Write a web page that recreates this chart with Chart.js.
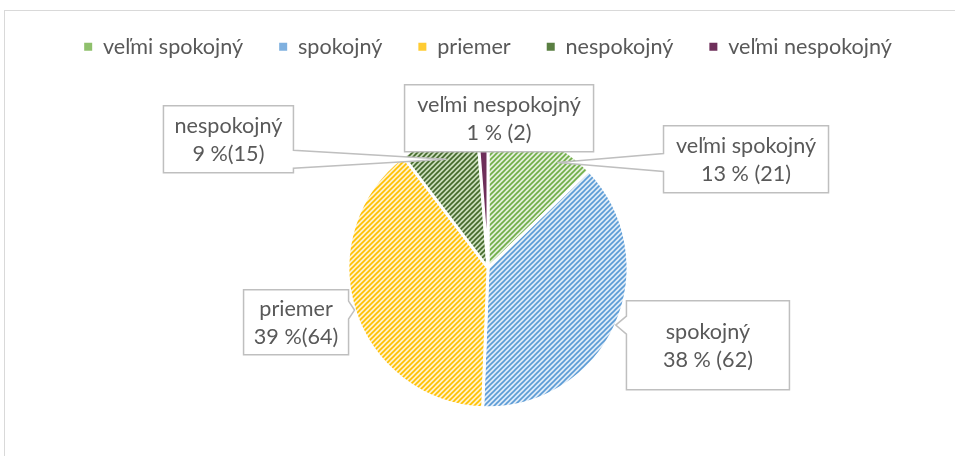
<!DOCTYPE html>
<html>
<head>
<meta charset="utf-8">
<script src="https://cdn.jsdelivr.net/npm/chart.js@4/dist/chart.umd.min.js"></script>
<style>
    body { margin: 0; background: #ffffff; overflow: hidden; }
    #frame {
        position: absolute; left: 4px; top: 10px; width: 980px; height: 480px;
        border: 1px solid #d9d9d9;
    }
    /* taller than the window so the pie centre lands where it should */
    #wrap { position: absolute; left: 0; top: 0; width: 955px; height: 468px; }
</style>
</head>
<body>
<div id="frame"></div>
<div id="wrap"><canvas id="pieChart"></canvas></div>
<script>
// ===== DATA =====
const categories = ['veľmi spokojný', 'spokojný', 'priemer', 'nespokojný', 'veľmi nespokojný'];
const counts = [21, 62, 64, 15, 2];
const valueLabels = ['13 % (21)', '38 % (62)', '39 %(64)', '9 %(15)', '1 % (2)'];

const textColor = '#595959';
const fontFamily = 'Lato, "Open Sans", sans-serif';
const fontSize = 21.6;

// Striped fill like Excel's "wide upward diagonal" pattern
function makeStripes(bg, fg) {
    const s = 5;
    const c = document.createElement('canvas');
    c.width = s; c.height = s;
    const g = c.getContext('2d');
    g.fillStyle = bg;
    g.fillRect(0, 0, s, s);
    g.strokeStyle = fg;
    g.lineWidth = 1.6;
    g.beginPath();
    g.moveTo(-1, s + 1); g.lineTo(s + 1, -1);
    g.moveTo(-1, 1); g.lineTo(1, -1);
    g.moveTo(s - 1, s + 1); g.lineTo(s + 1, s - 1);
    g.stroke();
    return g.createPattern(c, 'repeat');
}

const sliceFills = [
    makeStripes('#e2efda', '#70ad47'),
    makeStripes('#deebf7', '#5b9bd5'),
    makeStripes('#fff2cc', '#ffc000'),
    makeStripes('#c9dcba', '#43682b'),
    '#6e2f5a'
];
// legend squares look nearly solid in the original
const legendFills = ['#8fc06c', '#7fb0df', '#ffcc33', '#5a7f42', '#6e2f5a'];

// Callout boxes: centre offset in radius units, size in px, anchor = fraction of radius
const calloutLayout = [
    { dx: 1.843, dy: -0.775, w: 165, h: 67, anchor: 0.9, turn: 0.18 },
    { dx: 1.571, dy: 0.554, w: 163, h: 89, anchor: 1.0, turn: 0 },
    { dx: -1.371, dy: 0.389, w: 105, h: 65, anchor: 1.0, turn: 0 },
    { dx: -1.854, dy: -0.918, w: 130, h: 67, anchor: 0.83, turn: 0 },
    { dx: 0.079, dy: -1.068, w: 189, h: 67, anchor: 0.9, turn: 0 }
];

const calloutPlugin = {
    id: 'callouts',
    afterDatasetsDraw(chart) {
        const ctx = chart.ctx;
        const meta = chart.getDatasetMeta(0);
        meta.data.forEach((arc, i) => {
            const lay = calloutLayout[i];
            const p = arc.getProps(['x', 'y', 'startAngle', 'endAngle', 'outerRadius'], true);
            const r = p.outerRadius;
            const mid = (p.startAngle + p.endAngle) / 2 + lay.turn;
            const tx = p.x + Math.cos(mid) * r * lay.anchor;
            const ty = p.y + Math.sin(mid) * r * lay.anchor;
            const cx = p.x + lay.dx * r;
            const cy = p.y + lay.dy * r;
            const left = cx - lay.w / 2, right = cx + lay.w / 2;
            const top = cy - lay.h / 2, bottom = cy + lay.h / 2;
            const hw = 9;

            let side = null;
            if (tx < left) side = 'left';
            else if (tx > right) side = 'right';
            else if (ty > bottom) side = 'bottom';
            else if (ty < top) side = 'top';

            const by = Math.min(Math.max(ty, top + hw + 2), bottom - hw - 2);
            const bx = Math.min(Math.max(tx, left + hw + 2), right - hw - 2);

            ctx.save();
            ctx.beginPath();
            ctx.moveTo(left, top);
            if (side === 'top') { ctx.lineTo(bx - hw, top); ctx.lineTo(tx, ty); ctx.lineTo(bx + hw, top); }
            ctx.lineTo(right, top);
            if (side === 'right') { ctx.lineTo(right, by - hw); ctx.lineTo(tx, ty); ctx.lineTo(right, by + hw); }
            ctx.lineTo(right, bottom);
            if (side === 'bottom') { ctx.lineTo(bx + hw, bottom); ctx.lineTo(tx, ty); ctx.lineTo(bx - hw, bottom); }
            ctx.lineTo(left, bottom);
            if (side === 'left') { ctx.lineTo(left, by + hw); ctx.lineTo(tx, ty); ctx.lineTo(left, by - hw); }
            ctx.closePath();
            ctx.fillStyle = '#ffffff';
            ctx.fill();
            ctx.strokeStyle = '#bfbfbf';
            ctx.lineWidth = 1.5;
            ctx.stroke();

            ctx.fillStyle = textColor;
            ctx.font = fontSize + 'px ' + fontFamily;
            ctx.textAlign = 'center';
            ctx.textBaseline = 'middle';
            ctx.fillText(categories[i], cx, cy - 13);
            ctx.fillText(valueLabels[i], cx, cy + 15);
            ctx.restore();
        });
    }
};

let pieChart = null;

function initializeChart() {
    const ctx = document.getElementById('pieChart');
    if (!ctx) return;

    pieChart = new Chart(ctx.getContext('2d'), {
        type: 'pie',
        data: {
            labels: categories,
            datasets: [{
                data: counts,
                backgroundColor: sliceFills,
                borderColor: '#ffffff',
                borderWidth: 3,
                radius: 140
            }]
        },
        options: {
            responsive: true,
            maintainAspectRatio: false,
            animation: false,
            layout: { padding: { top: 0, left: 21, right: 0, bottom: 0 } },
            plugins: {
                tooltip: { enabled: false },
                legend: {
                    position: 'top',
                    labels: {
                        color: textColor,
                        font: { family: fontFamily, size: fontSize },
                        boxWidth: 8,
                        boxHeight: 8,
                        padding: 36,
                        generateLabels(chart) {
                            return chart.data.labels.map((text, i) => ({
                                text: text,
                                fillStyle: legendFills[i],
                                strokeStyle: legendFills[i],
                                lineWidth: 0,
                                fontColor: textColor,
                                hidden: false,
                                index: i
                            }));
                        }
                    }
                }
            }
        },
        plugins: [calloutPlugin]
    });
}

document.addEventListener('DOMContentLoaded', initializeChart);
</script>
</body>
</html>
